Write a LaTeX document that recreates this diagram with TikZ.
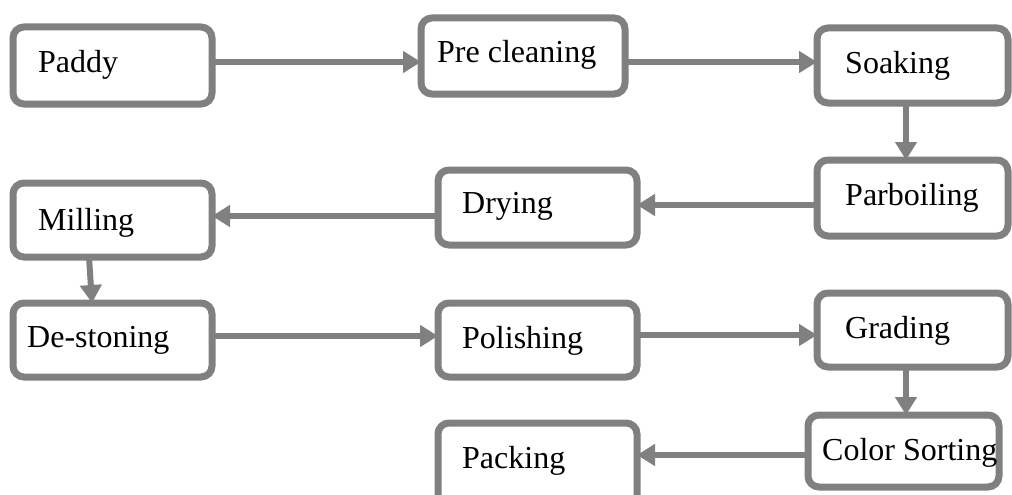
\documentclass[tikz,border=0pt]{standalone}
\usepackage{fontspec}
\setmainfont{Liberation Serif}
\usetikzlibrary{arrows.meta}
\definecolor{linegray}{RGB}{128,128,128}
\tikzset{
  box/.style={draw=linegray, line width=7pt, rounded corners=11pt, fill=white,
    inner sep=0pt, outer sep=0pt},
  lbl/.style={anchor=base west, inner sep=0pt, font=\fontsize{32}{38}\selectfont},
  arr/.style={draw=linegray, line width=6pt,
    -{Triangle[length=18pt,width=21pt]}}
}
\begin{document}
\begin{tikzpicture}[x=1pt,y=-1pt]
\useasboundingbox (0,0) rectangle (1012,495);
\clip (0,0) rectangle (1012,495);
% boxes: centre, width, height (centreline)
\node[box, minimum width=199pt, minimum height=77pt] (b1) at (112.5,65.5) {};
\node[box, minimum width=204pt, minimum height=76pt] (b2) at (523,56) {};
\node[box, minimum width=191pt, minimum height=75pt] (b3) at (912.5,65.5) {};
\node[box, minimum width=191pt, minimum height=76pt] (b4) at (912.5,198) {};
\node[box, minimum width=199pt, minimum height=75pt] (b5) at (537.5,207.5) {};
\node[box, minimum width=199pt, minimum height=74pt] (b6) at (112.5,220) {};
\node[box, minimum width=199pt, minimum height=74pt] (b7) at (112.5,340) {};
\node[box, minimum width=199pt, minimum height=74pt] (b8) at (537.5,340) {};
\node[box, minimum width=191pt, minimum height=74pt] (b9) at (912.5,330) {};
\node[box, minimum width=191pt, minimum height=72pt] (b10) at (903.5,451) {};
\node[box, minimum width=199pt, minimum height=87pt] (b11) at (537.5,466.5) {};
% labels
\node[lbl] (t1) at (38,73) {Paddy};
\node[lbl] (t2) at (437,63) {Pre cleaning};
\node[lbl] (t3) at (845,74) {Soaking};
\node[lbl] (t4) at (845,205) {Parboiling};
\node[lbl] (t5) at (462,213) {Drying};
\node[lbl] (t6) at (38,230) {Milling};
\node[lbl] (t7) at (27,347) {De-stoning};
\node[lbl] (t8) at (462,348) {Polishing};
\node[lbl] (t9) at (845,338) {Grading};
\node[lbl] (t10) at (822,460) {Color Sorting};
\node[lbl] (t11) at (462,468) {Packing};
% connectors
\draw[arr] (b1.east |- 0,62) -- (b2.west |- 0,62);
\draw[arr] (b2.east |- 0,62) -- (b3.west |- 0,62);
\draw[arr] (b3.south -| 906,0) -- (b4.north -| 906,0);
\draw[arr] (b4.west |- 0,205) -- (b5.east |- 0,205);
\draw[arr] (b5.west |- 0,216) -- (b6.east |- 0,216);
\draw[arr] (b6.south -| 89,0) -- (b7.north -| 92,0);
\draw[arr] (b7.east |- 0,336) -- (b8.west |- 0,336);
\draw[arr] (b8.east |- 0,335) -- (b9.west |- 0,335);
\draw[arr] (b9.south -| 906,0) -- (b10.north -| 906,0);
\draw[arr] (b10.west |- 0,455) -- (b11.east |- 0,455);
\end{tikzpicture}
\end{document}
